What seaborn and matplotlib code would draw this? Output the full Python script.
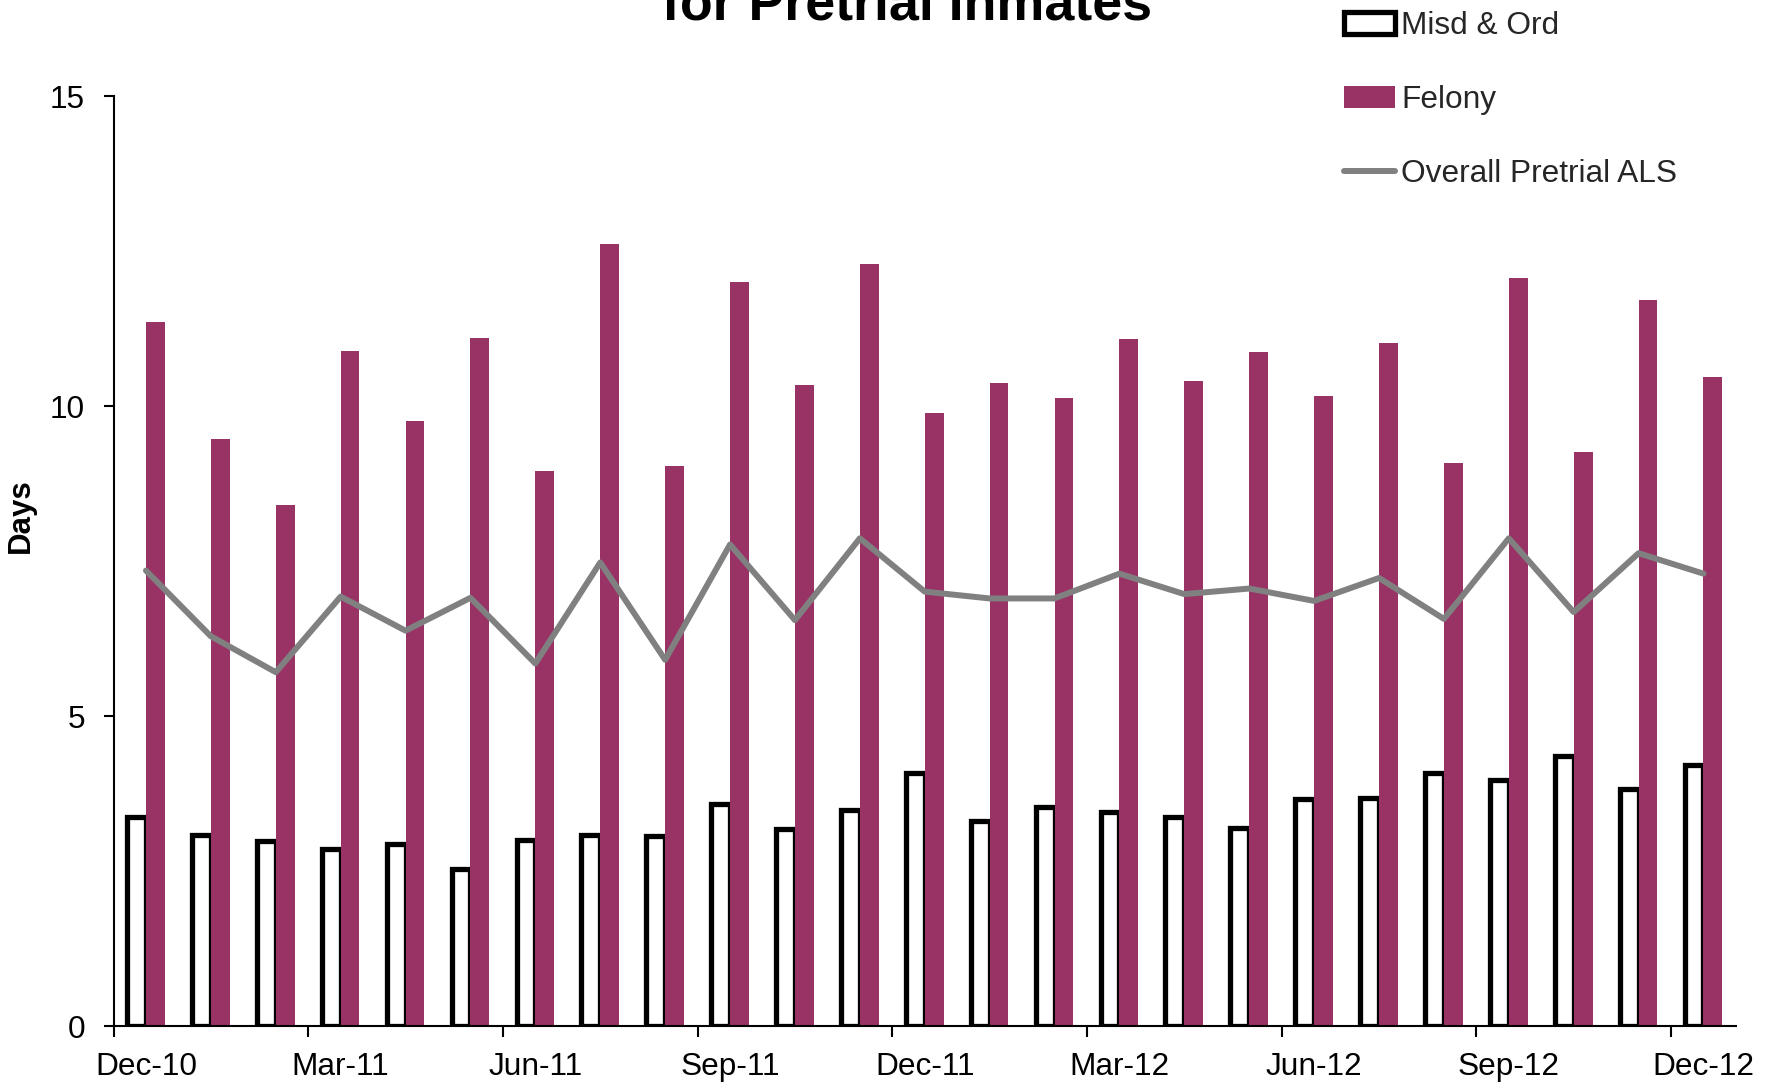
import numpy as np
import pandas as pd
import matplotlib
matplotlib.use("Agg")
import matplotlib.pyplot as plt
import seaborn as sns
from matplotlib.patches import Patch
from matplotlib.lines import Line2D

months = ['Dec-10', 'Jan-11', 'Feb-11', 'Mar-11', 'Apr-11', 'May-11', 'Jun-11',
          'Jul-11', 'Aug-11', 'Sep-11', 'Oct-11', 'Nov-11', 'Dec-11', 'Jan-12',
          'Feb-12', 'Mar-12', 'Apr-12', 'May-12', 'Jun-12', 'Jul-12', 'Aug-12',
          'Sep-12', 'Oct-12', 'Nov-12', 'Dec-12']
misd = [3.38, 3.09, 2.98, 2.85, 2.93, 2.54, 3.00, 3.09, 3.07, 3.59, 3.18, 3.49,
        4.08, 3.31, 3.53, 3.46, 3.38, 3.20, 3.66, 3.68, 4.08, 3.97, 4.35, 3.82, 4.21]
felony = [11.36, 9.47, 8.40, 10.90, 9.77, 11.10, 8.96, 12.62, 9.04, 12.00, 10.35,
          12.29, 9.90, 10.37, 10.13, 11.08, 10.41, 10.88, 10.17, 11.03, 9.09, 12.07,
          9.26, 11.71, 10.48]
overall = [7.35, 6.29, 5.71, 6.93, 6.38, 6.91, 5.85, 7.48, 5.91, 7.77, 6.55, 7.87,
           7.01, 6.90, 6.90, 7.30, 6.97, 7.06, 6.86, 7.23, 6.57, 7.87, 6.68, 7.63, 7.30]
tick_labels = ['Dec-10', 'Mar-11', 'Jun-11', 'Sep-11', 'Dec-11', 'Mar-12',
               'Jun-12', 'Sep-12', 'Dec-12']
series_names = ['Misd & Ord', 'Felony', 'Overall Pretrial ALS']

FEL = '#993366'
GRAY = '#808080'

sns.set_style('ticks')
plt.rcParams['font.family'] = ['Liberation Sans', 'DejaVu Sans']

fig = plt.figure(figsize=(17.79, 10.83), dpi=100)
ax = fig.add_axes([0.0638, 0.0526, 0.912, 0.8583])

df = pd.DataFrame({
    'Month': months * 2,
    'Days': misd + felony,
    'Type': [series_names[0]] * len(months) + [series_names[1]] * len(months),
})
sns.barplot(data=df, x='Month', y='Days', hue='Type', order=months,
            hue_order=series_names[:2],
            palette={series_names[0]: 'white', series_names[1]: FEL},
            width=0.58, gap=0, saturation=1, errorbar=None, legend=False, ax=ax)

for bar in ax.containers[0]:
    bar.set_edgecolor('black')
    bar.set_linewidth(3.8)
    bar.set_zorder(2)
for bar in ax.containers[1]:
    bar.set_edgecolor('none')
    bar.set_linewidth(0)
    bar.set_zorder(2)

dfl = pd.DataFrame({'Month': months, 'Overall': overall})
sns.lineplot(data=dfl, x='Month', y='Overall', sort=False, color=GRAY, lw=4.3,
             ax=ax, zorder=3)

ax.set_xlim(-0.5, len(months) - 0.5)
ax.set_ylim(0, 15)
ax.set_yticks([0, 5, 10, 15])
ax.set_yticklabels(['0', '5', '10', '15'])
ax.set_xticks(np.arange(-0.5, len(months) - 1, 3))
ax.set_xticklabels([])
ax.set_xticks(np.arange(0, len(months), 3), minor=True)
ax.set_xticklabels(tick_labels, minor=True)
ax.tick_params(axis='x', which='major', direction='out', length=8, width=1.5, color='black')
ax.tick_params(axis='x', which='minor', length=0, labelsize=22.8, pad=19, labelcolor='black')
ax.tick_params(axis='y', direction='out', length=7.5, width=1.5, labelsize=22.8, pad=13,
               color='black', labelcolor='black')
for s in ['top', 'right']:
    ax.spines[s].set_visible(False)
for s in ['left', 'bottom']:
    ax.spines[s].set_color('black')
    ax.spines[s].set_linewidth(1.5)
ax.set_xlabel('')
ax.set_ylabel('Days', fontsize=22.5, fontweight='bold', color='black')
ax.yaxis.set_label_coords(-0.048, 0.549)

fig.text(0.5096, 1 - 19 / 1083, 'for Pretrial Inmates', ha='center', va='baseline',
         fontsize=38.7, fontweight='bold', color='black')

handles = [Patch(facecolor='white', edgecolor='black', linewidth=3.8),
           Patch(facecolor=FEL, edgecolor='none'),
           Line2D([], [], color=GRAY, lw=4.3)]
fig.legend(handles, series_names, loc='upper left',
           bbox_to_anchor=(1344 / 1779, 0.9896), frameon=False, fontsize=22.8,
           handlelength=1.6, handletextpad=0.2, labelspacing=1.38, borderpad=0,
           borderaxespad=0)

fig.savefig('out.png', dpi=100)
